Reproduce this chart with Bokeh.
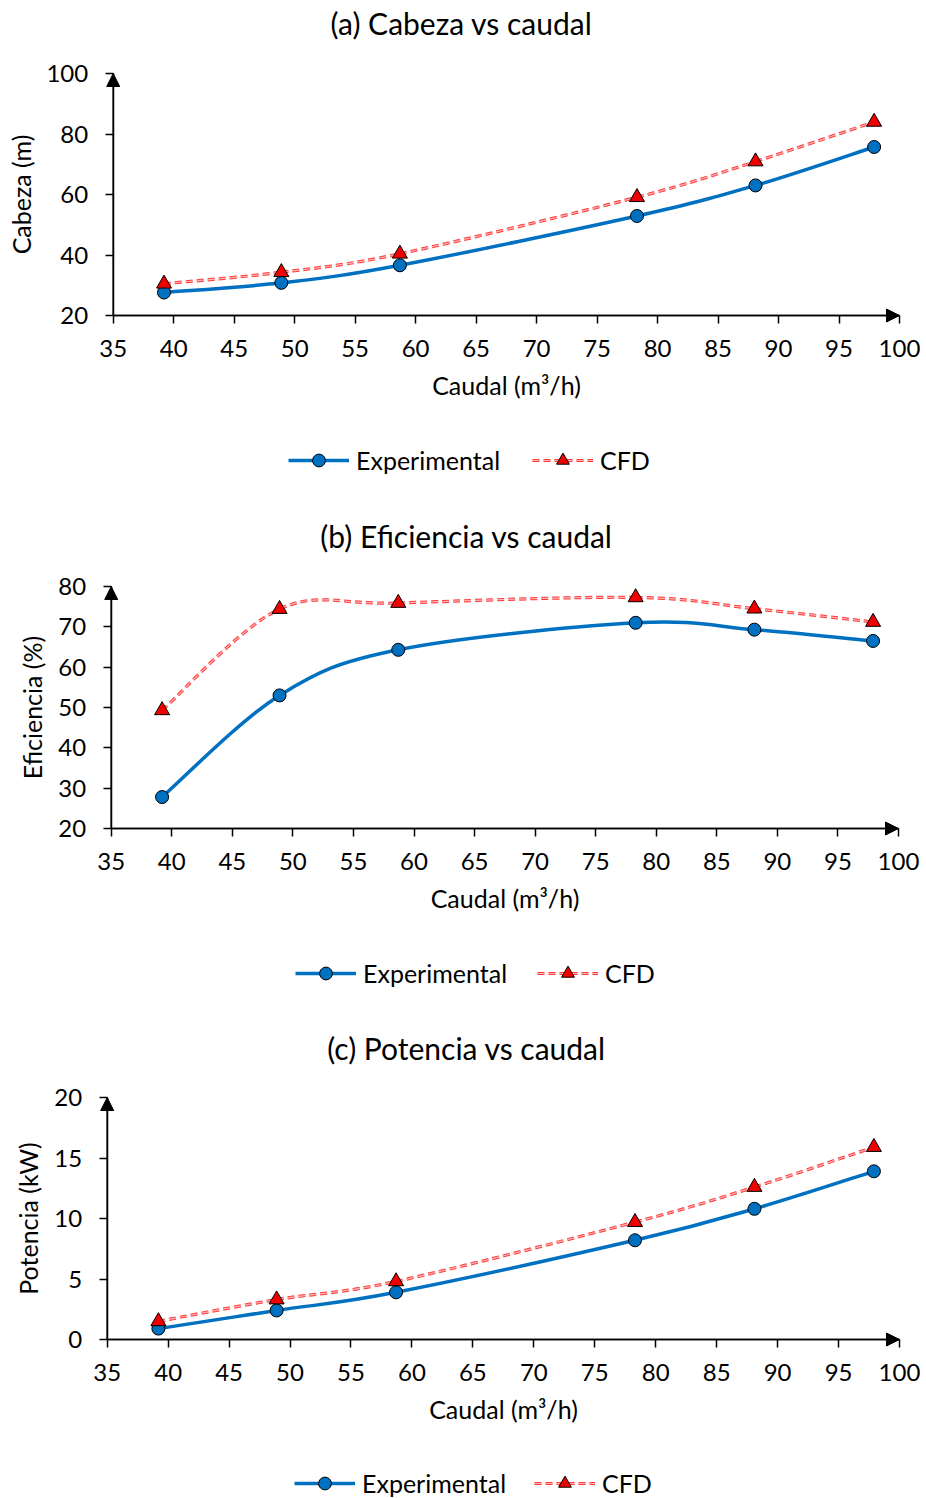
from bokeh.plotting import figure
from bokeh.layouts import column
from bokeh.models import Range1d, FixedTicker, Label, Legend, LegendItem, Arrow, NormalHead
from bokeh.embed import file_html
from bokeh.resources import INLINE

# ---------------- data ----------------
caudal = [39.2, 48.9, 58.7, 78.3, 88.1, 97.9]
cabeza_exp = [27.6, 30.8, 36.6, 52.9, 63.0, 75.7]
cabeza_cfd = [30.5, 34.3, 40.4, 59.1, 70.9, 84.0]
eficiencia_exp = [27.8, 53.0, 64.3, 71.0, 69.3, 66.5]
eficiencia_cfd = [49.3, 74.4, 75.9, 77.3, 74.5, 71.2]
potencia_exp = [0.9, 2.4, 3.9, 8.2, 10.8, 13.9]
potencia_cfd = [1.5, 3.3, 4.8, 9.7, 12.6, 15.9]

x_ticks = [35, 40, 45, 50, 55, 60, 65, 70, 75, 80, 85, 90, 95, 100]
cabeza_ticks = [20, 40, 60, 80, 100]
eficiencia_ticks = [20, 30, 40, 50, 60, 70, 80]
potencia_ticks = [0, 5, 10, 15, 20]

series_names = ["Experimental", "CFD"]
x_label = "Caudal (m³/h)"

FONT = "Lato"
BLUE = "#0070C0"
RED_LINE = "#FF3A3A"
RED_INNER = "#FFB4B4"
RED_FILL = "#F00000"
DASH = "7 4"
W = 926


def smooth(xs, ys):
    """Bezier control points (Excel-like smoothed line) from the data."""
    n = len(xs)
    out = dict(x0=[], y0=[], x1=[], y1=[], cx0=[], cy0=[], cx1=[], cy1=[])
    for i in range(n - 1):
        xp, yp = (xs[i - 1], ys[i - 1]) if i > 0 else (xs[i], ys[i])
        xn, yn = (xs[i + 2], ys[i + 2]) if i + 2 < n else (xs[i + 1], ys[i + 1])
        out["x0"].append(xs[i]); out["y0"].append(ys[i])
        out["x1"].append(xs[i + 1]); out["y1"].append(ys[i + 1])
        out["cx0"].append(xs[i] + (xs[i + 1] - xp) / 6.0)
        out["cy0"].append(ys[i] + (ys[i + 1] - yp) / 6.0)
        out["cx1"].append(xs[i + 1] - (xn - xs[i]) / 6.0)
        out["cy1"].append(ys[i + 1] - (yn - ys[i]) / 6.0)
    return out


def panel(title, ylabel, yexp, ycfd, yticks, H, ax_left, ax_right, ax_top, ax_bottom,
          title_x, title_y, legend_left, legend_mid, ylab_standoff, spacing):
    """ax_* are pixel positions of the axes inside the figure (layout only)."""
    ymin, ymax = yticks[0], yticks[-1]
    pxu = (ax_right - ax_left) / 65.0
    pyu = (ax_bottom - ax_top) / float(ymax - ymin)
    x_start = 35 - ax_left / pxu
    x_end = 100 + (W - ax_right) / pxu
    y_end = ymax + ax_top / pyu
    y_start = ymin - (H - ax_bottom) / pyu

    p = figure(width=W, height=H, output_backend="svg", toolbar_location=None,
               x_range=Range1d(x_start, x_end), y_range=Range1d(y_start, y_end),
               min_border=0)
    p.outline_line_color = None
    p.xgrid.visible = False
    p.ygrid.visible = False
    p.background_fill_color = "white"
    p.border_fill_color = "white"

    for ax in (p.xaxis[0], p.yaxis[0]):
        ax.axis_line_color = "black"
        ax.axis_line_width = 1.5
        ax.major_tick_line_color = "black"
        ax.major_tick_line_width = 1.5
        ax.major_tick_out = 8
        ax.major_tick_in = 0
        ax.minor_tick_line_color = None
        ax.major_label_text_font = FONT
        ax.major_label_text_font_size = "24px"
        ax.major_label_text_color = "black"
        ax.axis_label_text_font = FONT
        ax.axis_label_text_font_size = "25px"
        ax.axis_label_text_font_style = "normal"
        ax.axis_label_text_color = "black"

    p.xaxis.fixed_location = ymin
    p.yaxis.fixed_location = 35
    p.xaxis.bounds = (35, 100)
    p.yaxis.bounds = (ymin, ymax)
    p.xaxis.ticker = FixedTicker(ticks=x_ticks)
    p.yaxis.ticker = FixedTicker(ticks=yticks)
    p.xaxis.axis_label = x_label
    p.yaxis.axis_label = ylabel
    p.xaxis.major_label_standoff = 16
    p.xaxis.axis_label_standoff = 10
    p.yaxis.major_label_standoff = 17
    p.yaxis.axis_label_standoff = ylab_standoff

    # axis arrow heads
    p.add_layout(Arrow(end=NormalHead(size=13, fill_color="black", line_color="black"),
                       x_start=35, y_start=ymin, x_end=35, y_end=ymax,
                       line_color="black", line_width=1.5))
    p.add_layout(Arrow(end=NormalHead(size=13, fill_color="black", line_color="black"),
                       x_start=35, y_start=ymin, x_end=100, y_end=ymin,
                       line_color="black", line_width=1.5))

    # experimental
    se = smooth(caudal, yexp)
    p.bezier(line_color=BLUE, line_width=3.5, **se)
    # one-point line: draws nothing in the plot, only serves the legend swatch
    exp_proxy = p.line(x=caudal[:1], y=yexp[:1], line_color=BLUE, line_width=3.5)
    exp_pts = p.scatter(caudal, yexp, marker="circle", size=13, fill_color=BLUE,
                        line_color="black", line_width=1)
    # CFD
    sc = smooth(caudal, ycfd)
    p.bezier(line_color=RED_LINE, line_width=3.2, line_dash=DASH, **sc)
    p.bezier(line_color=RED_INNER, line_width=1.2, line_dash=DASH, **sc)
    cfd_proxy = p.line(x=caudal[:1], y=ycfd[:1], line_color=RED_LINE, line_width=3.2,
                       line_dash=DASH)
    cfd_proxy2 = p.line(x=caudal[:1], y=ycfd[:1], line_color=RED_INNER, line_width=1.2,
                        line_dash=DASH)
    cfd_pts = p.scatter(caudal, ycfd, marker="triangle", size=15, fill_color=RED_FILL,
                        line_color="black", line_width=1)

    p.add_layout(Label(x=x_start + title_x / pxu, y=y_end - title_y / pyu,
                       text=title, text_align="center", text_baseline="middle",
                       text_font=FONT, text_font_size="30px", text_color="black"))

    gh = 32
    legend = Legend(items=[LegendItem(label=series_names[0], renderers=[exp_proxy, exp_pts]),
                           LegendItem(label=series_names[1],
                                      renderers=[cfd_proxy, cfd_proxy2, cfd_pts])],
                    location=(legend_left, H - legend_mid - gh / 2), orientation="horizontal",
                    glyph_width=61, glyph_height=gh, label_standoff=7, spacing=spacing,
                    padding=0, margin=0, border_line_color=None,
                    background_fill_alpha=0, label_text_font=FONT,
                    label_text_font_size="25px", label_text_color="black",
                    label_text_baseline="middle")
    p.add_layout(legend, "center")
    return p


p1 = panel("(a) Cabeza vs caudal", "Cabeza (m)", cabeza_exp, cabeza_cfd, cabeza_ticks,
           513, 112.7, 899, 73, 315, 461, 22, 288, 460, 8, 32)
p2 = panel("(b) Eficiencia vs caudal", "Eficiencia (%)", eficiencia_exp, eficiencia_cfd,
           eficiencia_ticks, 513, 110.7, 898, 73, 315, 466, 22, 295, 460, 9, 30)
p3 = panel("(c) Potencia vs caudal", "Potencia (kW)", potencia_exp, potencia_cfd,
           potencia_ticks, 472, 106.7, 899, 71, 313, 466, 21, 294, 457, 9, 28)

layout = column(p1, p2, p3, spacing=0)
open("out.html", "w").write(file_html(layout, INLINE))
